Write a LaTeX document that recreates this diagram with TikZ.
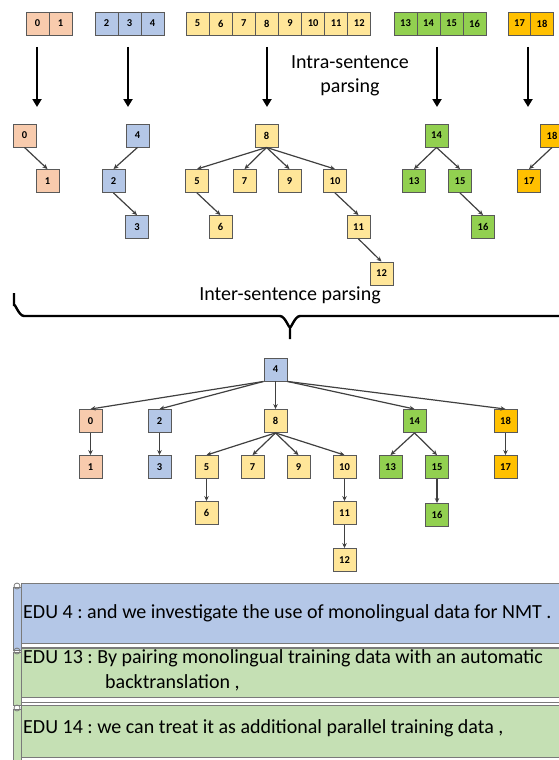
\documentclass[tikz,border=0pt]{standalone}
\usepackage{fontspec}
\setmainfont{Carlito}
\usetikzlibrary{arrows.meta}
\frenchspacing

\definecolor{segpink}{HTML}{F8CBAD}
\definecolor{segblue}{HTML}{B4C7E7}
\definecolor{segyellow}{HTML}{FFE699}
\definecolor{seggreen}{HTML}{92D050}
\definecolor{segorange}{HTML}{FFC000}
\definecolor{edugreen}{HTML}{C5E0B4}
\definecolor{boxline}{HTML}{595959}
\definecolor{linkgray}{HTML}{404040}

\begin{document}
\begin{tikzpicture}
        [
            x=1pt, y=-1pt,
            cell/.style={draw=boxline, line width=0.9pt, minimum size=23pt, inner sep=0pt,
                font=\bfseries\fontsize{10.5}{10.5}\selectfont},
            link/.style={-{Stealth[length=5pt,width=4.5pt]}, color=linkgray, line width=1.2pt},
            bigarrow/.style={-{Triangle[length=8pt,width=9pt]}, line width=2.4pt},
            label/.style={font=\fontsize{20}{24}\selectfont, align=center, inner sep=0pt},
            scroll/.style={draw=boxline!80, line width=0.8pt},
            edutext/.style={font=\fontsize{20}{25}\selectfont, anchor=west, align=left, inner sep=0pt}
        ]
        \clip (0,0) rectangle (559,760);

        % segmented sentences
        \foreach \n/\x/\c in {0/37.5/segpink, 1/60.5/segpink,
            2/106.5/segblue, 3/129.5/segblue, 4/152.5/segblue,
            5/197.6/segyellow, 6/220.7/segyellow, 7/243.8/segyellow, 8/266.9/segyellow,
            9/290/segyellow, 10/313.1/segyellow, 11/336.2/segyellow, 12/359.3/segyellow,
            13/405.5/seggreen, 14/428.5/seggreen, 15/451.5/seggreen, 16/474.5/seggreen,
            17/519.5/segorange, 18/542/segorange}
            \node[cell, fill=\c] (t\n) at (\x,23.5) {\n};

        \coordinate (s0) at (37,47);   \coordinate (e0) at (37,107);
        \coordinate (s1) at (128,47);  \coordinate (e1) at (128,107);
        \coordinate (s2) at (267,47);  \coordinate (e2) at (267,107);
        \coordinate (s3) at (437,47);  \coordinate (e3) at (437,107);
        \coordinate (s4) at (528,47);  \coordinate (e4) at (528,107);
        \foreach \k in {0,...,4}
            \draw[bigarrow] (s\k) -- (e\k);

        \node[label] (intra) at (350,76) {Intra-sentence\\parsing};

        % intra-sentence trees
        \node[cell, fill=segpink] (i0) at (24.5,135.5) {0};
        \node[cell, fill=segpink] (i1) at (47.5,181) {1};
        \node[cell, fill=segblue] (i4) at (137.5,135.5) {4};
        \node[cell, fill=segblue] (i2) at (113.5,181) {2};
        \node[cell, fill=segblue] (i3) at (137,227) {3};
        \node[cell, fill=segyellow] (i8) at (266.5,135.5) {8};
        \node[cell, fill=segyellow] (i5) at (197,181) {5};
        \node[cell, fill=segyellow] (i7) at (244.5,181) {7};
        \node[cell, fill=segyellow] (i9) at (289.5,181) {9};
        \node[cell, fill=segyellow] (i10) at (335,181) {10};
        \node[cell, fill=segyellow] (i6) at (220.5,227) {6};
        \node[cell, fill=segyellow] (i11) at (358.5,227) {11};
        \node[cell, fill=segyellow] (i12) at (381.5,273.5) {12};
        \node[cell, fill=seggreen] (i14) at (436.5,135.5) {14};
        \node[cell, fill=seggreen] (i13) at (414,181) {13};
        \node[cell, fill=seggreen] (i15) at (460,181) {15};
        \node[cell, fill=seggreen] (i16) at (483,227) {16};
        \node[cell, fill=segorange] (i18) at (552,135.5) {18};
        \node[cell, fill=segorange] (i17) at (529,181) {17};
        \path[link]
        (i0.south) edge (i1.north)
        (i4.south) edge (i2.north)
        (i2.south) edge (i3.north)
        (i8.south) edge (i5.north)
        (i8.south) edge (i7.north)
        (i8.south) edge (i9.north)
        (i8.south) edge (i10.north)
        (i5.south) edge (i6.north)
        (i10.south) edge (i11.north)
        (i11.south) edge (i12.north)
        (i14.south) edge (i13.north)
        (i14.south) edge (i15.north)
        (i15.south) edge (i16.north)
        (i18.south) edge (i17.north);

        % inter-sentence parsing
        \node[label] (inter) at (290,295) {Inter-sentence parsing};
        \draw[line width=2.4pt] (14,293) -- (14,306) to[out=90,in=180] (24,316) -- (280,316)
            to[out=0,in=-90] (290,326) -- (290,339);
        \draw[line width=2.4pt] (290,326) to[out=-90,in=180] (300,316) -- (570,316);

        % discourse tree
        \node[cell, fill=segblue] (b4) at (275.5,369.5) {4};
        \node[cell, fill=segpink] (b0) at (90.5,421) {0};
        \node[cell, fill=segblue] (b2) at (159.5,421) {2};
        \node[cell, fill=segyellow] (b8) at (275.5,421) {8};
        \node[cell, fill=seggreen] (b14) at (414.5,421) {14};
        \node[cell, fill=segorange] (b18) at (505.5,421) {18};
        \node[cell, fill=segpink] (b1) at (90.5,467) {1};
        \node[cell, fill=segblue] (b3) at (159.5,467) {3};
        \node[cell, fill=segyellow] (b5) at (206.5,467) {5};
        \node[cell, fill=segyellow] (b7) at (252.5,467) {7};
        \node[cell, fill=segyellow] (b9) at (298.5,467) {9};
        \node[cell, fill=segyellow] (b10) at (344.5,467) {10};
        \node[cell, fill=seggreen] (b13) at (390.5,467) {13};
        \node[cell, fill=seggreen] (b15) at (437,467) {15};
        \node[cell, fill=segorange] (b17) at (505.5,467) {17};
        \node[cell, fill=segyellow] (b6) at (206.5,513) {6};
        \node[cell, fill=segyellow] (b11) at (344.5,513) {11};
        \node[cell, fill=seggreen] (b16) at (437,515) {16};
        \node[cell, fill=segyellow] (b12) at (344.5,560) {12};
        \path[link]
        (b4.south west) edge (b0.north)
        (b4.south west) edge (b2.north)
        (b4.south) edge (b8.north)
        (b4.south east) edge (b14.north)
        (b4.south east) edge (b18.north)
        (b0.south) edge (b1.north)
        (b2.south) edge (b3.north)
        (b8.south) edge (b5.north)
        (b8.south) edge (b7.north)
        (b8.south) edge (b9.north)
        (b8.south) edge (b10.north)
        (b5.south) edge (b6.north)
        (b10.south) edge (b11.north)
        (b11.south) edge (b12.north)
        (b14.south) edge (b13.north)
        (b14.south) edge (b15.north)
        (b15.south) edge (b16.north)
        (b18.south) edge (b17.north);

        % EDU scrolls
        \draw[scroll, fill=segblue] (21,583) rectangle (575,643);
        \draw[scroll, fill=white] (21,643) rectangle (575,647);
        \draw[scroll, fill=segblue] (13,587) rectangle (21,650);
        \draw[scroll] (17,586) circle (3);
        \node[edutext] (edu4) at (23,613) {EDU 4 : and we investigate the use of monolingual data for NMT .};

        \draw[scroll, fill=edugreen] (21,648) rectangle (575,697);
        \draw[scroll, fill=white] (21,697) rectangle (575,702);
        \draw[scroll, fill=edugreen] (13,652) rectangle (21,705);
        \draw[scroll] (17,651) circle (3);
        \node[edutext] (edu13) at (23,670) {EDU 13 : By pairing monolingual training data with an automatic\\\hspace*{82pt}backtranslation ,};

        \draw[scroll, fill=edugreen] (21,705) rectangle (575,757);
        \draw[scroll, fill=edugreen] (13,709) rectangle (21,770);
        \draw[scroll] (17,708) circle (3);
        \node[edutext] (edu14) at (23,728) {EDU 14 : we can treat it as additional parallel training data ,};
    \end{tikzpicture}
\end{document}
